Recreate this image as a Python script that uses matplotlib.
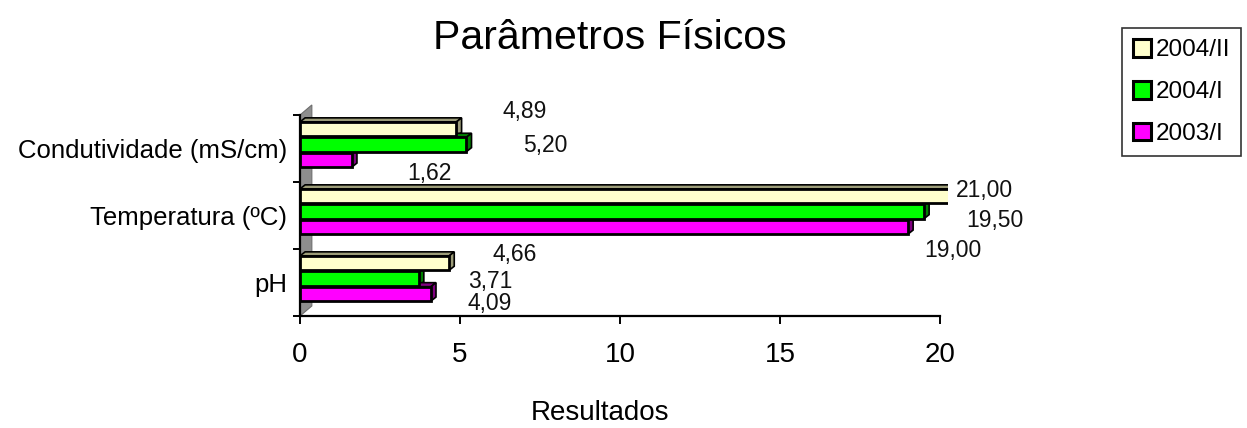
import matplotlib
matplotlib.use("Agg")
import matplotlib.pyplot as plt
from matplotlib.patches import Polygon, Patch

plt.rcParams['font.family'] = ['Liberation Sans', 'DejaVu Sans']

# ---- data ----
categories = ["pH", "Temperatura (ºC)", "Condutividade (mS/cm)"]
series_names = ["2004/II", "2004/I", "2003/I"]
values_2004_II = [4.66, 21.00, 4.89]
values_2004_I = [3.71, 19.50, 5.20]
values_2003_I = [4.09, 19.00, 1.62]
x_ticks = [0, 5, 10, 15, 20]

series_values = [values_2004_II, values_2004_I, values_2003_I]

# ---- styling ----
face_colors = ["#FFFFCC", "#00FF00", "#FF00FF"]
side_colors = ["#9C9C78", "#008000", "#800080"]
bar_offsets = [0.23, 0.0, -0.23]      # series position inside a category
group_shift = 0.06
bar_height = 0.215
depth_x, depth_y = 0.16, 0.06          # pseudo-3D depth of each bar
wall_dx, wall_dy = 0.37, 0.15          # depth of the left wall

# value-label nudges (x, y) per category and series
label_dx = [[2.06, 2.23, 1.85],
            [0.40, 2.20, 1.40],
            [2.14, 2.46, 2.44]]
label_dy = [[0.135, -0.05, -0.14],
            [0.09, -0.14, -0.35],
            [0.255, -0.02, -0.20]]

W, H = 1247, 428
fig = plt.figure(figsize=(W / 100, H / 100), dpi=100)
x_max = 20.25
ax = fig.add_axes([300 / W, 112 / H, x_max * 32 / W, 201 / H])
ax.set_xlim(0, x_max)
ax.set_ylim(-0.5, 2.5)

# left wall
wall = Polygon([(0, -0.5), (wall_dx, -0.5 + wall_dy), (wall_dx, 2.5 + wall_dy), (0, 2.5)],
               closed=True, facecolor="#8E8E8E", edgecolor="#6E6E6E", lw=0.8,
               clip_on=False, zorder=1)
ax.add_patch(wall)

for s, vals in enumerate(series_values):
    ys = [c + group_shift + bar_offsets[s] for c in range(len(categories))]
    ax.barh(ys, vals, height=bar_height, color=face_colors[s], edgecolor="black",
            linewidth=2.0, zorder=3)
    for c, (y, v) in enumerate(zip(ys, vals)):
        top = y + bar_height / 2
        bot = y - bar_height / 2
        ax.add_patch(Polygon([(0, top), (depth_x, top + depth_y), (v + depth_x, top + depth_y), (v, top)],
                             closed=True, facecolor=side_colors[s], edgecolor="black", lw=1.2, zorder=2))
        ax.add_patch(Polygon([(v, bot), (v + depth_x, bot + depth_y), (v + depth_x, top + depth_y), (v, top)],
                             closed=True, facecolor=side_colors[s], edgecolor="black", lw=1.2, zorder=2))
        ax.text(v + label_dx[c][s], y + label_dy[c][s], f"{v:.2f}".replace(".", ","),
                ha="center", va="center", fontsize=16.5, color="#111111", clip_on=False, zorder=5)

# axes styling
for side in ("top", "right"):
    ax.spines[side].set_visible(False)
ax.spines["left"].set_linewidth(1.6)
ax.spines["bottom"].set_linewidth(1.6)
ax.spines["bottom"].set_bounds(0, 20)

ax.set_xticks(x_ticks)
ax.set_xticklabels([str(t) for t in x_ticks], fontsize=20)
ax.tick_params(axis="x", length=6, width=1.4, pad=13, direction="out")

ax.set_yticks([-0.5, 0.5, 1.5, 2.5])
ax.set_yticklabels([])
ax.tick_params(axis="y", which="major", length=5, width=1.4, direction="out")
ax.set_yticks(range(len(categories)), minor=True)
ax.set_yticklabels(categories, minor=True, fontsize=18.5)
ax.tick_params(axis="y", which="minor", length=0, pad=9)

ax.set_xlabel("Resultados", fontsize=20)
ax.xaxis.set_label_coords((600 - 300) / (x_max * 32), (316 - 413) / 201)
ax.xaxis.label.set_va("center")

fig.text(610 / W, 1 - 38 / H, "Parâmetros Físicos", ha="center", va="center", fontsize=29.5)

handles = [Patch(facecolor=fc, edgecolor="black", linewidth=2.2) for fc in face_colors]
leg = fig.legend(handles, series_names, loc="upper left",
                 bbox_to_anchor=(1122 / W, 1 - 28 / H), fontsize=17.5,
                 handlelength=0.75, handleheight=0.75, handletextpad=0.2,
                 labelspacing=0.8, borderpad=0.45, borderaxespad=0,
                 frameon=True, fancybox=False)
leg.get_frame().set_edgecolor("black")
leg.get_frame().set_linewidth(1.2)

fig.savefig("out.png", dpi=100)
